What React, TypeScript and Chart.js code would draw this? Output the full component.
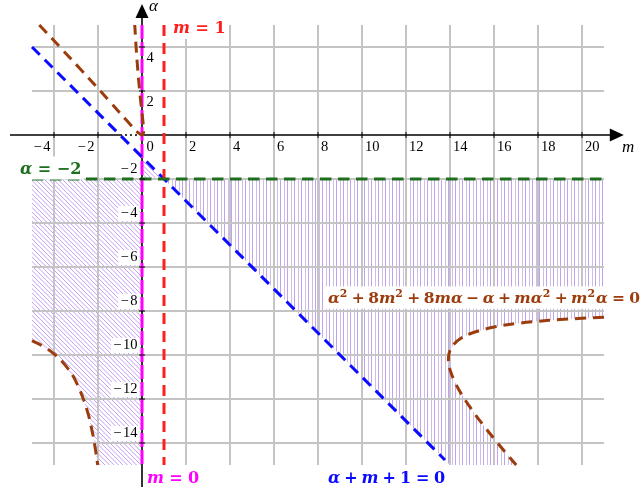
import React, { useEffect, useRef } from "react";
import { Chart, registerables } from "chart.js";

Chart.register(...registerables);

// ---------- axes / grid (data units) ----------
const X_AXIS_MIN = -6;
const X_AXIS_MAX = 22;
const Y_AXIS_MIN = -16;
const Y_AXIS_MAX = 6;
const X_ARROW_TIP = 21.9;
const Y_ARROW_TIP = 5.95;
const GRID_M_MIN = -5;
const GRID_M_MAX = 21;
const GRID_A_MIN = -15;
const GRID_A_MAX = 5;
const GRID_M_LINES = [-4, -2, 2, 4, 6, 8, 10, 12, 14, 16, 18, 20];
const GRID_A_LINES = [-14, -12, -10, -8, -6, -4, -2, 2, 4];
const X_TICKS = [-4, -2, 0, 2, 4, 6, 8, 10, 12, 14, 16, 18, 20];
const Y_TICKS = [-14, -12, -10, -8, -6, -4, -2, 2, 4];
const DOTTED_AXIS_M = [-1, 0];

// ---------- straight lines ----------
const GREEN_M = [-5, 21];
const GREEN_A = [-2, -2];
const RED_M = [1, 1];
const RED_A = [5, -15];
const MAGENTA_M = [0, 0];
const MAGENTA_A = [5, -15];
const BLUE_M = [-5, 13.77];
const BLUE_A = [4, -14.77];

// ---------- brown curve: α²+8m²+8mα−α+mα²+m²α=0 ----------
const BROWN_UP_M = [-4.669, -3.732, -2.806, -1.894, -1.445, -1.0, -0.778, -0.553, -0.321, -0.167, 0, 0.067, 0.071, 0.053, 0.028, 0, -0.055, -0.106, -0.195, -0.268, -0.329];
const BROWN_UP_A = [5, 4, 3, 2, 1.5, 1, 0.75, 0.5, 0.25, 0.1, 0, 0.1, 0.25, 0.5, 0.75, 1, 1.5, 2, 3, 4, 5];
const BROWN_LL_M = [-5, -4.5, -4, -3.5, -3, -2.5, -2.25, -2.1, -2.014];
const BROWN_LL_A = [-9.348, -9.604, -9.953, -10.45, -11.21, -12.5, -13.54, -14.4, -15];
const BROWN_R_M = [21, 20, 19, 18, 17, 16, 15, 14.5, 14.2, 14, 13.95, 13.93, 13.95, 14, 14.2, 14.5, 15, 15.5, 16, 16.5, 17.01];
const BROWN_R_A = [-8.289, -8.333, -8.391, -8.467, -8.572, -8.73, -9.0, -9.241, -9.486, -9.8, -9.971, -10.2, -10.444, -10.667, -11.188, -11.743, -12.5, -13.171, -13.799, -14.4, -15];

// ---------- shaded regions ----------
const DIAG_M = [-5, 0, 0, -2.014, -2.1, -2.25, -2.5, -3, -3.5, -4, -4.5, -5];
const DIAG_A = [-2, -2, -15, -15, -14.4, -13.54, -12.5, -11.21, -10.45, -9.953, -9.604, -9.348];
const TRI_M = [0, 0, 1];
const TRI_A = [-1, -2, -2];
const VERT_M = [1, 21, 21, 20, 19, 18, 17, 16, 15, 14.5, 14.2, 14, 13.95, 13.93, 13.95, 14, 14.2, 14.5, 15, 15.5, 16, 16.5, 17.01, 14];
const VERT_A = [-2, -2, -8.289, -8.333, -8.391, -8.467, -8.572, -8.73, -9.0, -9.241, -9.486, -9.8, -9.971, -10.2, -10.444, -10.667, -11.188, -11.743, -12.5, -13.171, -13.799, -14.4, -15, -15];

// ---------- colours ----------
const C_GREEN = "#1e6e1e";
const C_RED = "#ff1f1f";
const C_MAGENTA = "#ff00ff";
const C_BLUE = "#0a0aff";
const C_BROWN = "#9c3c0c";
const C_GRID = "#c4c4c4";
const C_HATCH_A = "#c4a0f4";
const C_HATCH_B = "#cbc0df";

// ---------- text ----------
type Seg = { t: string; k?: "i" | "op" | "rel" | "sup" };
const LBL_M1: Seg[] = [{ t: "m", k: "i" }, { t: "=", k: "rel" }, { t: "1" }];
const LBL_M0: Seg[] = [{ t: "m", k: "i" }, { t: "=", k: "rel" }, { t: "0" }];
const LBL_AM2: Seg[] = [{ t: "α", k: "i" }, { t: "=", k: "rel" }, { t: "−2" }];
const LBL_BLUE: Seg[] = [
  { t: "α", k: "i" }, { t: "+", k: "op" }, { t: "m", k: "i" }, { t: "+", k: "op" }, { t: "1" }, { t: "=", k: "rel" }, { t: "0" },
];
const LBL_BROWN: Seg[] = [
  { t: "α", k: "i" }, { t: "2", k: "sup" }, { t: "+", k: "op" }, { t: "8" }, { t: "m", k: "i" }, { t: "2", k: "sup" },
  { t: "+", k: "op" }, { t: "8" }, { t: "mα", k: "i" }, { t: "−", k: "op" }, { t: "α", k: "i" }, { t: "+", k: "op" },
  { t: "mα", k: "i" }, { t: "2", k: "sup" }, { t: "+", k: "op" }, { t: "m", k: "i" }, { t: "2", k: "sup" }, { t: "α", k: "i" },
  { t: "=", k: "rel" }, { t: "0" },
];
const LABELS = [
  { segs: LBL_M1, m: 1.41, a: 4.89, color: C_RED, size: 16, pad: 0.3 },
  { segs: LBL_AM2, m: -5.55, a: -1.5, color: C_GREEN, size: 16, pad: 0.3 },
  { segs: LBL_M0, m: 0.23, a: -15.57, color: C_MAGENTA, size: 16, pad: 0.28 },
  { segs: LBL_BLUE, m: 8.45, a: -15.57, color: C_BLUE, size: 16, pad: 0.25 },
  { segs: LBL_BROWN, m: 8.45, a: -7.39, color: C_BROWN, size: 15.5, pad: 0.22 },
];
const MATH_FONT = "'DejaVu Serif'";
const TICK_SIZE = 14.5;
const TICK_FAMILY = "'Liberation Serif'";

function drawMath(ctx: CanvasRenderingContext2D, segs: Seg[], x: number, yMid: number, size: number, color: string, padK: number) {
  const pad = (k?: string) => (k === "op" ? size * padK : k === "rel" ? size * (padK + 0.05) : 0);
  const font = (k?: string) => `${k === "i" ? "italic " : ""}bold ${k === "sup" ? size * 0.7 : size}px ${MATH_FONT}`;
  const ws: number[] = [];
  let total = 0;
  segs.forEach((s) => {
    ctx.font = font(s.k);
    const w = ctx.measureText(s.t).width + 2 * pad(s.k) + (s.k === "sup" ? 1 : 0);
    ws.push(w);
    total += w;
  });
  ctx.fillStyle = "#ffffff";
  ctx.fillRect(x - 3, yMid - size * 0.72, total + 6, size * 1.44);
  ctx.fillStyle = color;
  ctx.textAlign = "left";
  ctx.textBaseline = "alphabetic";
  const base = yMid + size * 0.36;
  let cx = x;
  segs.forEach((s, i) => {
    ctx.font = font(s.k);
    ctx.fillText(s.t, cx + pad(s.k), s.k === "sup" ? base - size * 0.42 : base);
    cx += ws[i];
  });
}

// draws a tick number; negative numbers get a slightly separated minus sign
function tickWidth(ctx: CanvasRenderingContext2D, v: number) {
  const num = ctx.measureText(String(Math.abs(v))).width;
  return v < 0 ? ctx.measureText("−").width + 1.5 + num : num;
}
function drawTick(ctx: CanvasRenderingContext2D, v: number, left: number, y: number) {
  ctx.textAlign = "left";
  let x = left;
  if (v < 0) {
    ctx.fillText("−", x, y);
    x += ctx.measureText("−").width + 1.5;
  }
  ctx.fillText(String(Math.abs(v)), x, y);
}

function line(ctx: CanvasRenderingContext2D, x1: number, y1: number, x2: number, y2: number) {
  ctx.beginPath();
  ctx.moveTo(x1, y1);
  ctx.lineTo(x2, y2);
  ctx.stroke();
}

function drawGridAxes(chart: any) {
  const ctx: CanvasRenderingContext2D = chart.ctx;
  const xs = chart.scales.x;
  const ys = chart.scales.y;
  const X = (v: number) => xs.getPixelForValue(v);
  const Y = (v: number) => ys.getPixelForValue(v);
  ctx.save();
  ctx.strokeStyle = C_GRID;
  ctx.lineWidth = 2;
  GRID_M_LINES.forEach((m) => line(ctx, X(m), Y(GRID_A_MAX), X(m), Y(GRID_A_MIN)));
  GRID_A_LINES.forEach((a) => line(ctx, X(GRID_M_MIN), Y(a), X(GRID_M_MAX), Y(a)));

  const AL = 14;
  const AH = 6.5;
  ctx.strokeStyle = "#000";
  ctx.fillStyle = "#000";
  ctx.lineWidth = 1.6;
  const y0 = Y(0);
  const x0 = X(0);
  line(ctx, X(X_AXIS_MIN), y0, X(DOTTED_AXIS_M[0]), y0);
  line(ctx, X(DOTTED_AXIS_M[1]), y0, X(X_ARROW_TIP) - AL + 2, y0);
  ctx.setLineDash([2, 3]);
  line(ctx, X(DOTTED_AXIS_M[0]), y0, X(DOTTED_AXIS_M[1]), y0);
  ctx.setLineDash([]);
  ctx.beginPath();
  ctx.moveTo(X(X_ARROW_TIP), y0);
  ctx.lineTo(X(X_ARROW_TIP) - AL, y0 - AH);
  ctx.lineTo(X(X_ARROW_TIP) - AL, y0 + AH);
  ctx.closePath();
  ctx.fill();
  line(ctx, x0, Y(Y_AXIS_MIN), x0, Y(Y_ARROW_TIP) + AL - 2);
  ctx.beginPath();
  ctx.moveTo(x0, Y(Y_ARROW_TIP));
  ctx.lineTo(x0 - AH, Y(Y_ARROW_TIP) + AL);
  ctx.lineTo(x0 + AH, Y(Y_ARROW_TIP) + AL);
  ctx.closePath();
  ctx.fill();
  ctx.restore();
}

function drawTicksLabels(chart: any) {
  const ctx: CanvasRenderingContext2D = chart.ctx;
  const xs = chart.scales.x;
  const ys = chart.scales.y;
  const X = (v: number) => xs.getPixelForValue(v);
  const Y = (v: number) => ys.getPixelForValue(v);
  const y0 = Y(0);
  const x0 = X(0);
  ctx.save();
  ctx.strokeStyle = "#000";
  ctx.lineWidth = 1;
  X_TICKS.forEach((m) => m !== 0 && line(ctx, X(m), y0 - 3, X(m), y0 + 3));
  Y_TICKS.forEach((a) => line(ctx, x0 - 3, Y(a), x0 + 3, Y(a)));

  ctx.font = `${TICK_SIZE}px ${TICK_FAMILY}`;
  ctx.textBaseline = "middle";
  ctx.fillStyle = "#000";
  X_TICKS.forEach((m) => {
    if (m < 0) {
      const w = tickWidth(ctx, m);
      drawTick(ctx, m, X(m) - 3.5 - w, y0 + 12);
    } else {
      drawTick(ctx, m, X(m) + (m === 0 ? 4.5 : 3), y0 + 12);
    }
  });
  Y_TICKS.forEach((a) => {
    if (a < 0) {
      const w = tickWidth(ctx, a);
      const r = x0 - 4.5;
      const cy = Y(a) - 9.5;
      ctx.fillStyle = "#fff";
      ctx.fillRect(r - w - 2.5, cy - 7.5, w + 4.5, 15);
      ctx.fillStyle = "#000";
      drawTick(ctx, a, r - w, cy);
    } else {
      ctx.fillStyle = "#000";
      drawTick(ctx, a, x0 + 4.5, Y(a) + 11.5);
    }
  });

  ctx.font = "italic 17px 'Liberation Serif'";
  ctx.textAlign = "left";
  ctx.fillText("α", X(0.32), Y(5.82));
  ctx.fillText("m", X(21.82), Y(-0.55));

  LABELS.forEach((l) => drawMath(ctx, l.segs, X(l.m), Y(l.a), l.size, l.color, l.pad));
  ctx.restore();
}

const decorPlugin = {
  id: "decor",
  beforeDraw(chart: any) {
    chart.$gridDone = false;
  },
  beforeDatasetDraw(chart: any, args: any) {
    if (chart.$gridDone) return;
    const ds: any = chart.data.datasets[args.index];
    if (ds.isRegion) return;
    chart.$gridDone = true;
    drawGridAxes(chart);
  },
  afterDatasetsDraw(chart: any) {
    if (!chart.$gridDone) {
      chart.$gridDone = true;
      drawGridAxes(chart);
    }
    drawTicksLabels(chart);
  },
};

function mkPattern(kind: "diag" | "vert"): any {
  const c = document.createElement("canvas");
  const s = kind === "diag" ? 9 : 7;
  c.width = s;
  c.height = s;
  const g = c.getContext("2d");
  if (!g) return C_HATCH_A;
  g.lineWidth = 1;
  if (kind === "vert") {
    g.strokeStyle = C_HATCH_A;
    g.beginPath();
    g.moveTo(0.5, 0);
    g.lineTo(0.5, s);
    g.stroke();
    g.strokeStyle = C_HATCH_B;
    g.beginPath();
    g.moveTo(4.5, 0);
    g.lineTo(4.5, s);
    g.stroke();
  } else {
    g.strokeStyle = C_HATCH_A;
    g.beginPath();
    for (let k = -2; k <= 2; k++) {
      g.moveTo(k * 4.5, 0);
      g.lineTo(k * 4.5 + s, s);
    }
    g.stroke();
  }
  return g.createPattern(c, "repeat") || C_HATCH_A;
}

const pts = (ms: number[], as: number[]) => ms.map((m, i) => ({ x: m, y: as[i] }));

export default function App() {
  const ref = useRef<HTMLCanvasElement>(null);
  useEffect(() => {
    const canvas = ref.current;
    if (!canvas) return;
    const diag = mkPattern("diag");
    const vert = mkPattern("vert");
    const region = (label: string, ms: number[], as: number[], pat: any) => ({
      label,
      data: pts(ms, as),
      isRegion: true,
      fill: "shape",
      backgroundColor: pat,
      borderColor: "rgba(0,0,0,0)",
      borderWidth: 0,
      pointRadius: 0,
      tension: 0,
      order: 10,
    });
    const curve = (label: string, ms: number[], as: number[], color: string, dash: number[], tension = 0) => ({
      label,
      data: pts(ms, as),
      fill: false,
      borderColor: color,
      borderWidth: 3,
      borderDash: dash,
      borderCapStyle: "butt",
      pointRadius: 0,
      tension,
      order: 1,
    });
    const chart = new Chart(canvas, {
      type: "line",
      data: {
        datasets: [
          region("diag", DIAG_M, DIAG_A, diag),
          region("tri", TRI_M, TRI_A, diag),
          region("vert", VERT_M, VERT_A, vert),
          curve("alpha=-2", GREEN_M, GREEN_A, C_GREEN, [11.5, 6.5]),
          curve("m=1", RED_M, RED_A, C_RED, [11, 7]),
          curve("blue", BLUE_M, BLUE_A, C_BLUE, [11, 7]),
          curve("brownUp", BROWN_UP_M, BROWN_UP_A, C_BROWN, [11, 7], 0.4),
          curve("brownLL", BROWN_LL_M, BROWN_LL_A, C_BROWN, [11, 7], 0.4),
          curve("brownR", BROWN_R_M, BROWN_R_A, C_BROWN, [11, 7], 0.4),
          curve("m=0", MAGENTA_M, MAGENTA_A, C_MAGENTA, [14, 3]),
        ] as any,
      },
      options: {
        responsive: false,
        maintainAspectRatio: false,
        animation: false,
        devicePixelRatio: 1,
        events: [],
        layout: { padding: { left: 10, right: 15, top: 3, bottom: 8 } },
        scales: {
          x: { type: "linear", min: X_AXIS_MIN, max: X_AXIS_MAX, display: false },
          y: { type: "linear", min: Y_AXIS_MIN, max: Y_AXIS_MAX, display: false },
        },
        plugins: { legend: { display: false }, tooltip: { enabled: false } },
      } as any,
      plugins: [decorPlugin as any],
    });
    return () => chart.destroy();
  }, []);
  return (
    <div style={{ position: "fixed", left: 0, top: 0, width: 641, height: 495, background: "#fff" }}>
      <canvas ref={ref} width={641} height={495} style={{ width: 641, height: 495, display: "block" }} />
    </div>
  );
}
